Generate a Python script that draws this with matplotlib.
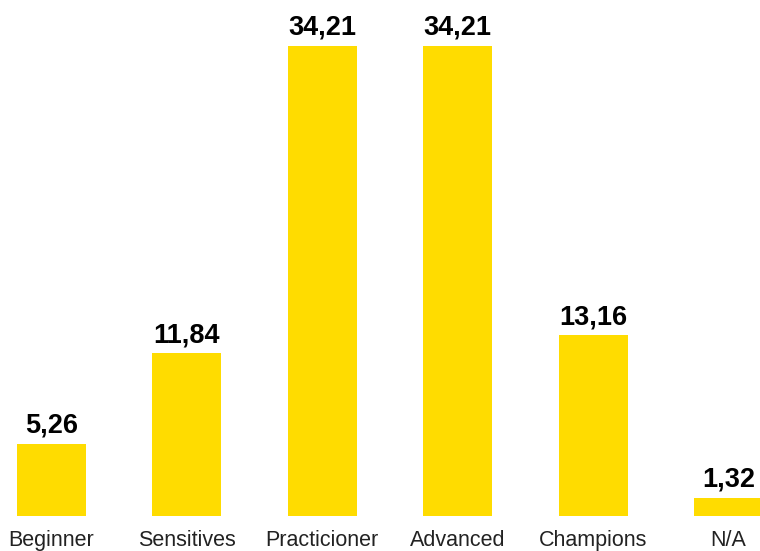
import matplotlib.pyplot as plt
import numpy as np

plt.rcParams['font.family'] = ['Liberation Sans', 'DejaVu Sans']

labels = ['Beginner', 'Sensitives', 'Practicioner', 'Advanced', 'Champions', 'N/A']
values = [5.26, 11.84, 34.21, 34.21, 13.16, 1.32]
value_text = ['5,26', '11,84', '34,21', '34,21', '13,16', '1,32']


def add_labels(rects, texts, ax):
    for rect, txt in zip(rects, texts):
        ax.annotate(txt,
                    xy=(rect.get_x() + rect.get_width() / 2, rect.get_height()),
                    xytext=(0, 8), textcoords='offset points',
                    ha='center', va='baseline',
                    fontsize=19.5, fontweight='bold', color='black')


fig = plt.figure(figsize=(7.6, 5.51), dpi=100)
ax = fig.add_axes([0, 35 / 551, 1, 516 / 551])

index = np.arange(len(labels))
rects = ax.bar(index, values, width=0.51, color='#FFDC00')
add_labels(rects, value_text, ax)

# category names under the bars
for i, lab in zip(index, labels):
    ax.annotate(lab, xy=(i, 0), xytext=(0, -21.5), textcoords='offset points',
                ha='center', va='baseline', fontsize=15.5, color='#222222',
                annotation_clip=False)

ax.set_xlim(-0.380, 5.233)
ax.set_ylim(0, 37.55)
ax.axis('off')

fig.savefig('out.png', dpi=100)
